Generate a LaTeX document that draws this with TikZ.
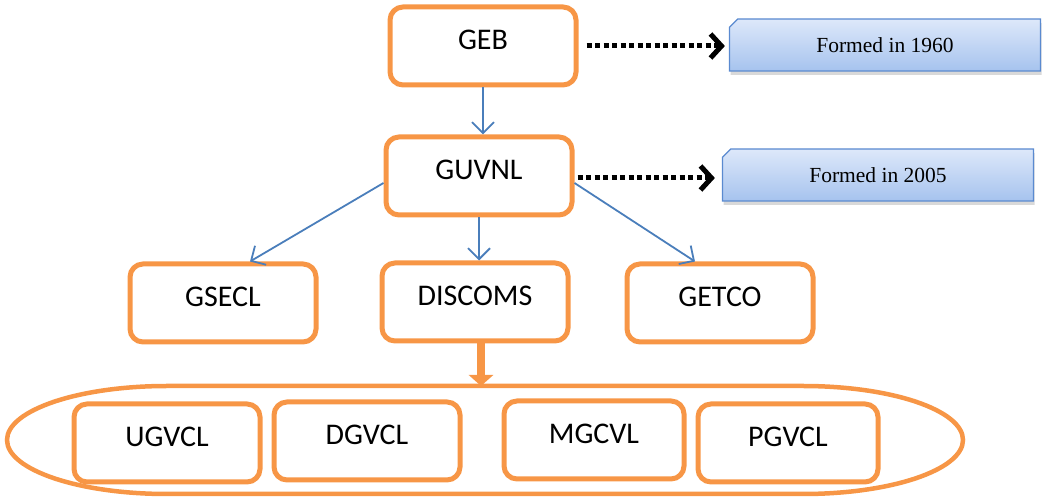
\documentclass[tikz,border=0pt]{standalone}
\usepackage{fontspec}
\setmainfont{Carlito}
\newfontfamily\notefont{Liberation Serif}
\usetikzlibrary{arrows.meta,shapes.misc,shadows}
\definecolor{boxorange}{HTML}{F79646}
\definecolor{linkblue}{HTML}{4A7EBB}
\definecolor{notetop}{HTML}{DDE8FA}
\definecolor{notebot}{HTML}{A6C3EE}
\definecolor{noteedge}{HTML}{5A8AD0}

\begin{document}
\begin{tikzpicture}[x=1pt,y=1pt,
		unit/.style={draw=boxorange,line width=5pt,rounded corners=13pt,minimum width=186pt,minimum height=78pt,
			font=\fontsize{30}{36}\selectfont,text height=20pt,text depth=12pt},
		note/.style={chamfered rectangle,chamfered rectangle corners=north west,chamfered rectangle xsep=5pt,
			draw=noteedge,line width=1.2pt,top color=notetop,bottom color=notebot,
			minimum width=311pt,minimum height=52pt,font=\notefont\fontsize{21.5}{25}\selectfont,
			drop shadow={shadow xshift=1pt,shadow yshift=-4pt,opacity=0.3}},
		link/.style={draw=linkblue,line width=1.8pt,-{Straight Barb[length=11pt,width=22pt]}},
		dotlink/.style={line width=5pt,dash pattern=on 5pt off 3.5pt,-{Straight Barb[length=11pt,width=24pt]}}]
	\useasboundingbox (0,0) rectangle (1044,500);

	\node[unit] (geb)   at (483,454) {GEB};
	\node[unit] (guvnl) at (479,324) {GUVNL};
	\node[unit] (gsecl)   at (223,197) {GSECL};
	\node[unit] (discoms) at (475,198) {DISCOMS};
	\node[unit] (getco)   at (720,197) {GETCO};

	% the four discoms inside the ring
	\draw[boxorange,line width=4.5pt] (167,114) -- (803,114)
		arc[start angle=90,end angle=-90,x radius=160,y radius=54] -- (167,6)
		arc[start angle=270,end angle=90,x radius=160,y radius=54] -- cycle;
	\coordinate (ringtop) at (481,114);
	\node[unit] (ugvcl) at (167,57)   {UGVCL};
	\node[unit] (dgvcl) at (367,59)   {DGVCL};
	\node[unit,minimum width=180pt] (mgcvl) at (594,60) {MGCVL};
	\node[unit,minimum width=180pt] (pgvcl) at (788,57) {PGVCL};

	\node[note] (note60) at (885,455) {Formed in 1960};
	\node[note] (note05) at (878,325) {Formed in 2005};

	\draw[link] (geb.south) -- (geb.south |- guvnl.north);
	\draw[link] (guvnl.south) -- (guvnl.south |- discoms.north);
	\draw[link] ([yshift=-7pt]guvnl.west) -- ([xshift=27pt]gsecl.north);
	\draw[link] ([yshift=-7pt]guvnl.east) -- ([xshift=-25pt]getco.north);
	\draw[boxorange,line width=8pt,-{Triangle[length=11pt,width=24pt]}] ([xshift=6pt]discoms.south) -- (ringtop);

	\draw[dotlink,shorten <=8pt,shorten >=4pt] (geb.east) -- (geb.east -| note60.west);
	\draw[dotlink,shorten <=3pt,shorten >=7pt] ([yshift=-2pt]guvnl.east) -- ([yshift=-2pt]guvnl.east -| note05.west);
\end{tikzpicture}
\end{document}
